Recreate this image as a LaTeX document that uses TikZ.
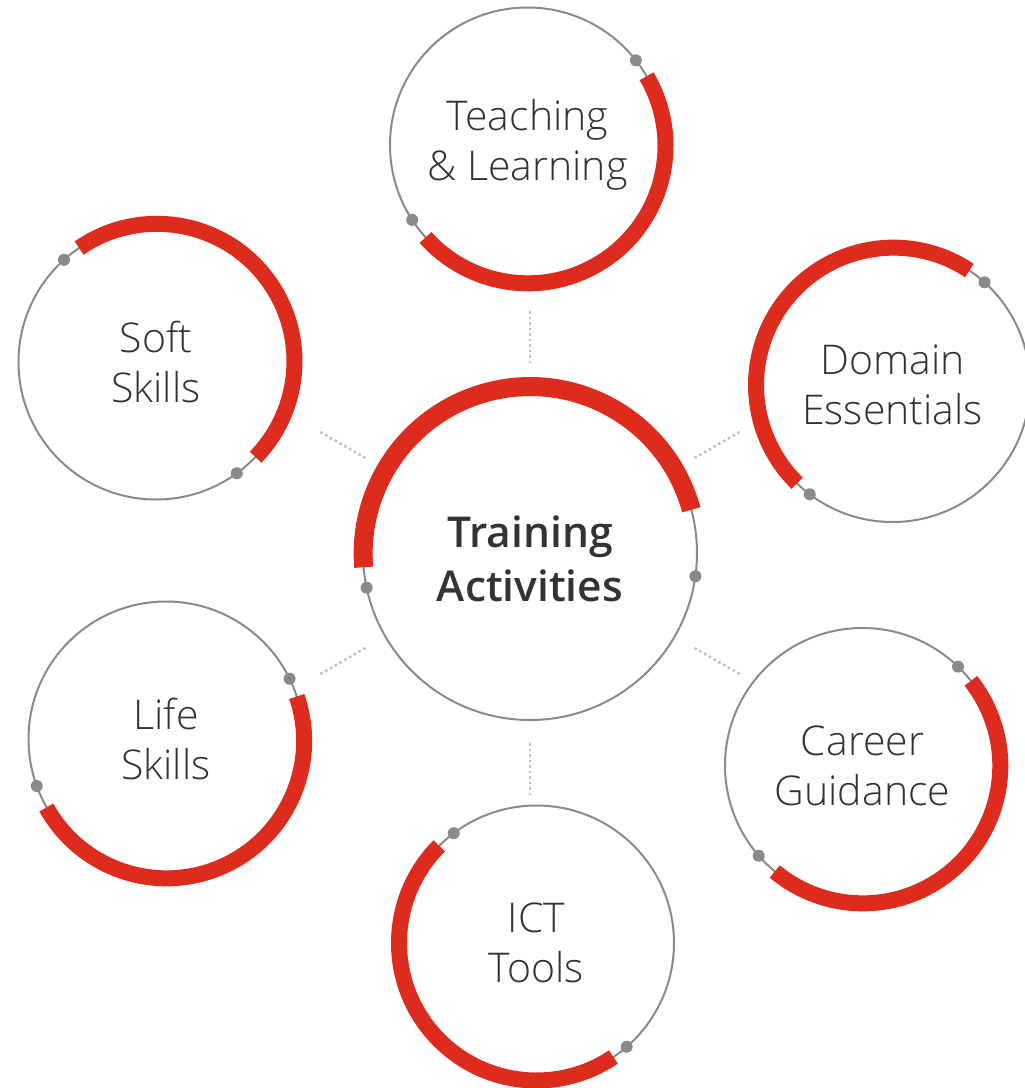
\documentclass[tikz,border=0pt]{standalone}
\usepackage{fontspec}
\setmainfont{Open Sans}
\IfFontExistsTF{Open Sans Light}{\newfontfamily\thinfont{Open Sans Light}}{\newfontfamily\thinfont{Open Sans}}
\IfFontExistsTF{Open Sans Semibold}{\newfontfamily\midfont{Open Sans Semibold}}{%
	\IfFontExistsTF{Open Sans SemiBold}{\newfontfamily\midfont{Open Sans SemiBold}}{\newfontfamily\midfont{Open Sans}[UprightFont=*-Bold]}}
\usepackage{xcolor}
\usepackage{tikz}
\usetikzlibrary{positioning,calc}

\definecolor{arcred}{RGB}{221,43,30}
\definecolor{ringgray}{RGB}{138,138,138}
\definecolor{linkgray}{RGB}{192,192,192}
\definecolor{inkgray}{RGB}{51,51,51}

\begin{document}
\begin{tikzpicture}[x=1pt,y=1pt, line cap=butt, line join=round]
	\useasboundingbox (0,0) rectangle (1025,-1088);
	
	% ===== styles =====
	\tikzset{
		ring/.style={circle, draw=ringgray, line width=2pt, inner sep=0pt, outer sep=0pt,
			minimum size=275pt, align=center, text=inkgray,
			font=\thinfont\fontsize{41}{50}\selectfont},
		hubring/.style={ring, minimum size=334pt,
			font=\midfont\fontsize{42.5}{54}\selectfont},
		redarc/.style={draw=arcred, line width=16pt},
		knob/.style={fill=ringgray},
		link/.style={draw=linkgray, line width=2.5pt, dash pattern=on 2.5pt off 3pt}
	}
	
	% ===== vòng giữa =====
	\node[hubring] (hub) at (530,-553) {\rule{0pt}{44pt}Training\\Activities};
	
	% ===== các vòng xung quanh =====
	\node[ring] (teach)  at (527.5,-145) {Teaching\\\& Learning};
	\node[ring] (domain) at (892.5,-384.5) {Domain\\Essentials};
	\node[ring] (soft)   at (156,-362) {Soft\\Skills};
	\node[ring] (life)   at (166,-739) {Life\\Skills};
	\node[ring] (ict)    at (536.5,-943) {ICT\\Tools};
	\node[ring] (career) at (862.5,-765.5) {Career\\Guidance};
	
	% ===== cung đỏ + chấm xám =====
	\draw[redarc, line width=19pt] (hub.15.2) arc[start angle=15.2, end angle=184.7, radius=167pt];
	\fill[knob] (hub.352.4) circle (6pt);
	\fill[knob] (hub.192.1) circle (6pt);
	
	\foreach \n/\a/\b/\p/\q in {teach/30.4/-138.2/38/213.9,
		domain/56.5/225.5/48.2/233.1,
		soft/124.5/-44.2/132.4/306,
		life/18.8/-151/26.2/200.7,
		ict/135/304/127.2/311.3,
		career/38.2/-129.8/46.3/221.9}{
		\draw[redarc] (\n.\a) arc[start angle=\a, end angle=\b, radius=137.5pt];
		\fill[knob] (\n.\p) circle (6pt);
		\fill[knob] (\n.\q) circle (6pt);
	}
	
	% ===== đường chấm =====
	\foreach \a in {30,90,150,210,270,330}{
		\draw[link] ($(hub.\a)+(\a:23pt)$) -- ($(hub.\a)+(\a:77pt)$);
	}
\end{tikzpicture}
\end{document}
